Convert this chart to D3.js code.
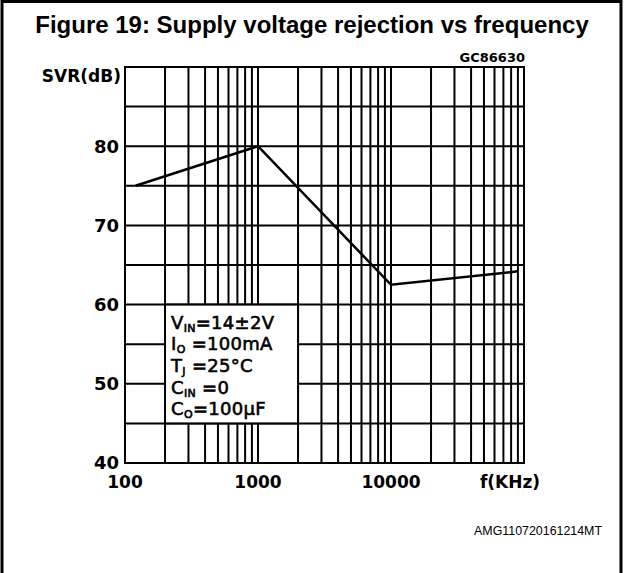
<!DOCTYPE html>
<html>
<head>
<meta charset="utf-8">
<script src="https://cdn.jsdelivr.net/npm/d3@7"></script>
<style>
  body { margin: 0; background: #fff; }
  svg { display: block; }
  .axis-text { font-family: "DejaVu Sans", sans-serif; font-weight: bold; fill: #000; }
</style>
</head>
<body>
<svg id="chart"></svg>
<script>
// values
const freq = [120, 1000, 10000, 90000]
const svr = [75, 80, 62.5, 64.2]
const yTicks = [40, 50, 60, 70, 80]
const xTicks = [100, 1000, 10000]
const conditions = [
  {main: "V", sub: "IN", rest: "=14\u00B12V"},
  {main: "I", sub: "O", rest: " =100mA"},
  {main: "T", sub: "J", rest: " =25\u00B0C"},
  {main: "C", sub: "IN", rest: " =0"},
  {main: "C", sub: "O", rest: "=100\u03BCF"}
]

const width = 624, height = 573
const margin = {top: 67, bottom: 110, left: 125, right: 100}

const svg = d3.select("#chart").attr("width", width).attr("height", height)

// outer frame
svg.append("path")
  .attr("d", `M2,${height} L2,1.5 L${width - 3},1.5 L${width - 3},${height}`)
  .attr("fill", "none").attr("stroke", "#000").attr("stroke-width", 3)

svg.append("text")
  .text("Figure 19: Supply voltage rejection vs frequency")
  .attr("x", 312).attr("y", 33)
  .attr("text-anchor", "middle")
  .style("font-family", "'Liberation Sans', Arial, sans-serif")
  .style("font-weight", "bold").style("font-size", "24px")

const x = d3.scaleLog().domain([100, 100000]).range([margin.left, width - margin.right])
const y = d3.scaleLinear().domain([40, 90]).range([height - margin.bottom, margin.top])

// grid
const xGrid = []
for (let dec = 100; dec < 100000; dec *= 10) {
  for (let k = 1; k < 10; k++) xGrid.push(dec * k)
}
xGrid.push(100000)
const yGrid = d3.range(40, 91, 5)

const grid = svg.append("g")
grid.selectAll("line.v").data(xGrid).join("line")
  .attr("class", "v")
  .attr("x1", d => x(d)).attr("x2", d => x(d))
  .attr("y1", y(40)).attr("y2", y(90))
  .attr("stroke", "#000").attr("stroke-width", 2)
grid.selectAll("line.h").data(yGrid).join("line")
  .attr("class", "h")
  .attr("x1", x(100) - 1).attr("x2", x(100000) + 1)
  .attr("y1", d => y(d)).attr("y2", d => y(d))
  .attr("stroke", "#000").attr("stroke-width", 2)

// curve
const line = d3.line().x(d => x(d[0])).y(d => y(d[1]))
svg.append("path")
  .datum(d3.zip(freq, svr))
  .attr("d", line)
  .attr("fill", "none").attr("stroke", "#000").attr("stroke-width", 2.5)

// conditions box
svg.append("rect")
  .attr("x", x(200)).attr("y", y(60))
  .attr("width", x(2000) - x(200)).attr("height", y(45) - y(60))
  .attr("fill", "#fff").attr("stroke", "#000").attr("stroke-width", 2)

const cond = svg.append("g").attr("class", "axis-text")
cond.selectAll("text").data(conditions).join("text")
  .attr("x", x(200) + 6)
  .attr("y", (d, i) => y(60) + 24 + i * 21.7)
  .style("font-size", "18px").style("font-weight", "normal")
  .style("letter-spacing", "0.3px")
  .style("stroke", "#000").style("stroke-width", 0.6)
  .each(function (d) {
    const t = d3.select(this)
    t.append("tspan").text(d.main)
    t.append("tspan").text(d.sub).attr("dy", 3).style("font-size", "11px")
    t.append("tspan").text(d.rest).attr("dy", -3)
  })

// y labels
svg.selectAll("text.ytick").data(yTicks).join("text")
  .attr("class", "ytick axis-text")
  .text(d => d)
  .attr("x", x(100) - 6).attr("y", d => y(d))
  .attr("dy", "0.36em")
  .attr("text-anchor", "end")
  .style("font-size", "18px")

svg.append("text").attr("class", "axis-text")
  .text("SVR(dB)")
  .attr("x", x(100) - 4).attr("y", y(90) + 15)
  .attr("text-anchor", "end")
  .style("font-size", "17px")

// x labels
svg.selectAll("text.xtick").data(xTicks).join("text")
  .attr("class", "xtick axis-text")
  .text(d => d)
  .attr("x", d => x(d)).attr("y", y(40) + 25)
  .attr("text-anchor", "middle")
  .style("font-size", "17px")

svg.append("text").attr("class", "axis-text")
  .text("f(KHz)")
  .attr("x", 510).attr("y", y(40) + 25)
  .attr("text-anchor", "middle")
  .style("font-size", "17px")

svg.append("text").attr("class", "axis-text")
  .text("GC86630")
  .attr("x", x(100000) + 1).attr("y", y(90) - 5)
  .attr("text-anchor", "end")
  .style("font-size", "13px")

svg.append("text")
  .text("AMG110720161214MT")
  .attr("x", 602).attr("y", 535)
  .attr("text-anchor", "end")
  .style("font-family", "'Liberation Sans', Arial, sans-serif")
  .style("font-size", "12.4px")
</script>
</body>
</html>
